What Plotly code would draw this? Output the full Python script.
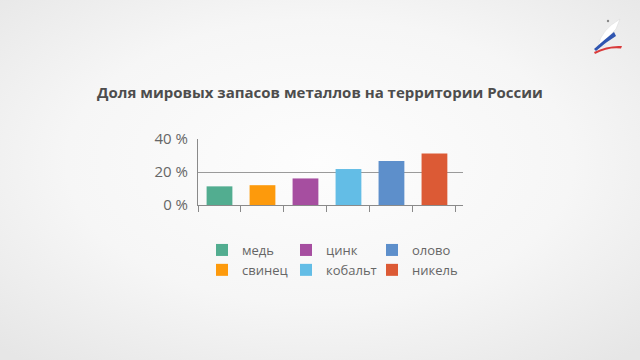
import plotly.graph_objects as go
import base64

metals = ["медь", "свинец", "цинк", "кобальт", "олово", "никель"]
shares = [11.3, 12.0, 16.1, 21.8, 26.7, 31.2]
colors = ["#52ad90", "#fd9a0c", "#a64ea0", "#63bde6", "#5d8fcb", "#dc5a35"]
legend_groups = ["legend", "legend", "legend2", "legend2", "legend3", "legend3"]
y_ticks = [0, 20, 40]
y_tick_labels = ["0 %", "20 %", "40 %"]
title_text = "Доля мировых запасов металлов на территории России"

W, H = 640, 360
FONT = "Open Sans"


def svg_uri(s):
    return "data:image/svg+xml;base64," + base64.b64encode(s.encode()).decode()


bg_src = svg_uri(
    '<svg xmlns="http://www.w3.org/2000/svg" width="640" height="360">'
    '<defs><radialGradient id="g" cx="50%" cy="45%" r="72%">'
    '<stop offset="0%" stop-color="#fdfdfd"/><stop offset="55%" stop-color="#f6f6f6"/>'
    '<stop offset="100%" stop-color="#e6e6e6"/></radialGradient></defs>'
    '<rect width="640" height="360" fill="url(#g)"/></svg>'
)
logo_src = svg_uri(
    '<svg xmlns="http://www.w3.org/2000/svg" width="45" height="40" viewBox="0 0 45 40">'
    '<path d="M13,31 Q16,15 35,4 L31,14 Q23,21 19,31 Z" fill="#ffffff" stroke="#dcdcdc" stroke-width="0.6"/>'
    '<path d="M9,34 Q19,25 29,17 L31,21 Q21,27 11,36 Z" fill="#2f55b0"/>'
    '<path d="M9,37 Q23,30 37,31 L36,33.5 Q23,32 10,39 Z" fill="#d93b3b"/>'
    '<circle cx="23" cy="6" r="1.2" fill="#888"/>'
    '</svg>'
)

fig = go.Figure()
for m, v, c, lg in zip(metals, shares, colors, legend_groups):
    fig.add_trace(go.Bar(
        x=[m], y=[v], name=m, marker=dict(color=c, line=dict(width=0)),
        width=0.6, legend=lg, showlegend=True,
    ))

plot_l, plot_r = 198, 463
plot_t, plot_b = 139, 205
pw, ph = plot_r - plot_l, plot_b - plot_t


def px_x(x):
    return (x - plot_l) / pw


def px_y(y):
    return (plot_b - y) / ph


leg_common = dict(
    orientation="v", xref="container", yref="container",
    xanchor="left", yanchor="top", bgcolor="rgba(0,0,0,0)",
    font=dict(family=FONT, size=13, color="#666666"),
    tracegroupgap=0,
)
leg_top = 1 - 235 / H

fig.update_layout(
    template="none",
    width=W, height=H, autosize=False,
    paper_bgcolor="#f4f4f4", plot_bgcolor="rgba(0,0,0,0)",
    margin=dict(l=plot_l, r=W - plot_r, t=plot_t, b=H - plot_b, pad=0, autoexpand=False),
    barmode="overlay",
    title=dict(text="<b>" + title_text + "</b>", x=0.5, xref="container", xanchor="center",
               y=1 - 93 / H, yref="container", yanchor="middle",
               font=dict(family=FONT, size=15, color="#4d4d4d")),
    xaxis=dict(type="category", categoryorder="array", categoryarray=metals,
               range=[-0.5, 5.664], showticklabels=False, ticks="outside",
               tickson="boundaries", ticklen=6, tickcolor="#8a8a8a", tickwidth=1,
               showline=True, linecolor="#8a8a8a", linewidth=1, showgrid=False,
               zeroline=False, fixedrange=True, automargin=False),
    yaxis=dict(range=[0, 40], tickmode="array", tickvals=y_ticks, ticktext=y_tick_labels,
               tickfont=dict(family=FONT, size=15, color="#666666"),
               showgrid=True, gridcolor="#9a9a9a", gridwidth=1,
               showline=True, linecolor="#8a8a8a", linewidth=1,
               zeroline=False, ticks="", ticklabelstandoff=6,
               fixedrange=True, automargin=False),
    legend=dict(x=202 / W, y=leg_top, **leg_common),
    legend2=dict(x=286 / W, y=leg_top, **leg_common),
    legend3=dict(x=372 / W, y=leg_top, **leg_common),
    images=[
        dict(source=bg_src, xref="paper", yref="paper", layer="below",
             x=px_x(0), y=px_y(0), sizex=W / pw, sizey=H / ph,
             xanchor="left", yanchor="top", sizing="stretch"),
        dict(source=logo_src, xref="paper", yref="paper", layer="above",
             x=px_x(585), y=px_y(15), sizex=45 / pw, sizey=40 / ph,
             xanchor="left", yanchor="top", sizing="stretch"),
    ],
    showlegend=True,
)

fig.write_html("out.html", config={"displayModeBar": False},
               post_script="document.body.style.margin='0';document.body.style.padding='0';")
